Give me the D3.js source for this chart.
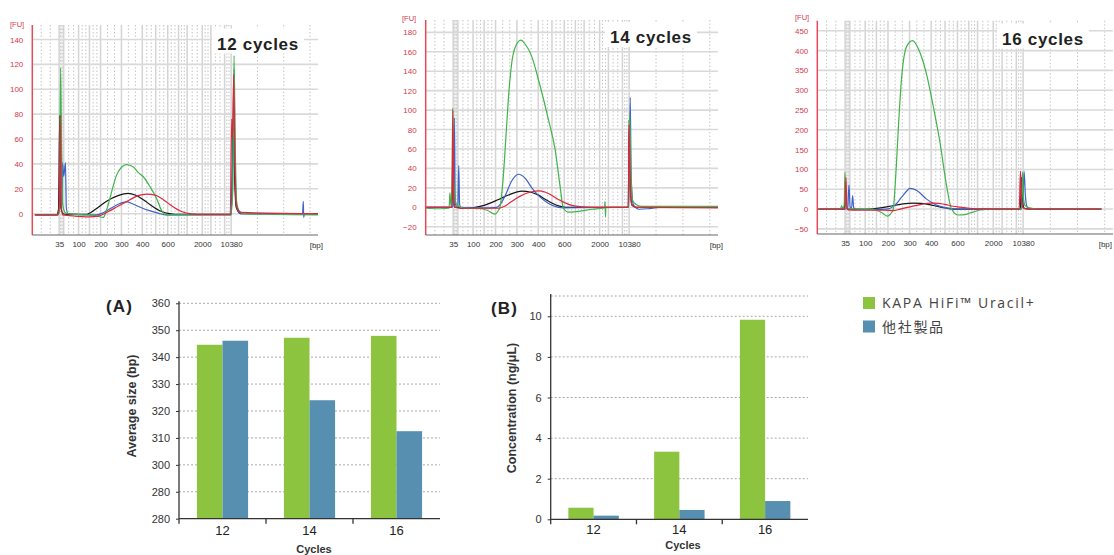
<!DOCTYPE html>
<html><head><meta charset="utf-8">
<script src="https://cdn.jsdelivr.net/npm/d3@7"></script>
<style>body{margin:0;background:#fff} svg{display:block;font-family:"Liberation Sans",Arial,sans-serif}</style>
</head><body><svg id="c" width="1114" height="555"></svg>
<script>
// ---------- Electropherogram data ----------
// Ladder: fragment size (bp) and its migration time (arbitrary time units, 0..100 across the run)
const ladderBp   = [35, 50, 100, 150, 200, 300, 400, 500, 600, 700, 1000, 2000, 3000, 7000, 10380];
const ladderTime = [9.4, 11.0, 16.2, 20.0, 23.9, 31.2, 38.5, 43.2, 47.4, 51.2, 54.2, 59.5, 62.5, 67.3, 69.6];
const xTickBp = [35, 100, 200, 300, 400, 600, 2000, 10380];
const xTickLabels = ["35", "100", "200", "300", "400", "600", "2000", "10380"];
const panelTitles = ["12 cycles", "14 cycles", "16 cycles"];
const fuTicks12 = [0, 20, 40, 60, 80, 100, 120, 140];
const fuTicks14 = [-20, 0, 20, 40, 60, 80, 100, 120, 140, 160, 180];
const fuTicks16 = [-50, 0, 50, 100, 150, 200, 250, 300, 350, 400, 450];
const fuDomain12 = [-17.1, 151.6];
const fuDomain14 = [-28.5, 192.7];
const fuDomain16 = [-63, 475.5];

// traces: [migration time, FU]
const trace12Black = [[0.9,-1],[8.5,-1],[9.2,4],[9.6,79],[10.0,5],[10.8,0],[12,-0.5],[19,-0.5],[20.5,1],[23,5],[26,10],[30,14.5],[33.6,16.3],[36,15],[39,11],[42,6],[45,2],[48,0],[50,-0.5],[69.6,-0.5],[70.0,30],[70.4,80],[70.8,30],[71.4,5],[73,0],[100,0]];
const trace12Blue = [[0.9,-1],[9.0,-1],[9.6,5],[10.0,80],[10.4,10],[10.6,41],[11.0,30],[11.6,41],[11.9,5],[12.5,0],[20,-1],[22.5,-1],[25,1],[28,5],[31,8.5],[33.2,9.5],[35,8],[38,5],[41,2.5],[44,0.5],[47,-1],[69.6,-1],[70.1,40],[70.6,116],[71.0,40],[71.6,5],[73,0],[94.6,0],[94.85,10],[95.0,-3],[95.2,0],[100,-0.5]];
const trace12Green = [[0.9,-1],[8.6,-1],[9.5,2],[9.9,117],[10.2,60],[10.6,8],[11.5,1],[12.5,0],[19,-1],[22,-1.5],[24.85,-3],[26.0,3],[27.8,18],[29.5,31],[31.3,37.5],[33.0,39.5],[35.4,37.5],[37.1,33],[38.85,29.7],[41.2,21.7],[43.5,12.3],[45.3,2.4],[47.0,-1],[69.5,-1],[70.2,20],[70.6,127],[71.0,60],[71.5,10],[72.5,2],[74,0],[100,-1]];
const trace12Red = [[0.9,-1],[9.0,-1],[9.5,10],[9.8,79],[10.1,10],[10.6,-1],[13,-1.5],[20,-2.5],[23,-2],[26,1],[30,6],[34,11],[37,14.5],[40,15.8],[43,15],[46,11],[49,6],[52,2],[55,0],[58,-0.5],[69.3,-0.5],[69.8,76],[70.1,60],[70.5,112],[70.9,40],[71.5,6],[73,1],[100,0]];

const trace14Black = [[0,0],[9.0,0],[9.3,60],[9.6,5],[10,0],[11,0],[12,-1],[13.5,-1],[17,0],[20,2],[24.9,8],[28.3,12.7],[32.9,16.7],[36,15.5],[38.6,12.5],[41,8],[43.1,4.5],[45.4,1.5],[48,0],[69.3,0],[69.6,90],[70,20],[70.6,2],[72,0],[100,0]];
const trace14Blue = [[0,0],[9.0,0],[9.5,3],[9.8,92],[10.1,5],[10.6,0],[11.0,2],[11.3,43],[11.6,3],[12,0],[14,-0.5],[22,-0.5],[24.3,0],[25.5,3],[27.2,12],[29.4,27],[31.7,34],[34,30],[36.3,20],[38.6,12],[42,4],[45.4,0],[47,-0.5],[69.5,0],[69.97,113],[70.3,30],[71,3],[73,-2],[76,-1.5],[80,0],[100,0]];
const trace14Green = [[0,-1],[5,-1.5],[8.0,-1],[8.3,15],[8.6,2],[9.0,20],[9.24,102],[9.5,40],[10.0,10],[10.5,3],[11.75,0],[13.5,-1],[19,-1.5],[21,-3],[23.7,-7],[24.9,-3],[25.4,0],[26.5,30],[27.5,75],[28.5,120],[29.5,150],[30.8,166],[32.6,172],[34,168],[36.3,155],[38.6,131],[42.0,90],[44.3,59],[46.0,21],[47.1,-1],[48.9,-5],[53,-4],[57,-2],[60.5,-1],[61.2,0],[61.35,6],[61.5,-10],[61.65,0],[69.4,0],[69.8,95],[70.2,40],[70.8,7],[72,3],[74,1],[100,1]];
const trace14Red = [[0,0],[9.0,0],[9.3,100],[9.6,10],[10,0],[12,-1],[22,-1],[24.9,-1],[27,1],[29.4,6],[32,11],[34,14],[36.3,16],[38.6,17],[41,15.5],[43.1,12.5],[45.4,8],[47.7,4.5],[50,2],[53.4,0.5],[56.8,0],[69.3,0],[69.6,85],[70.0,20],[70.5,3],[72,0],[100,-0.5]];

const trace16Black = [[0.35,0],[9.2,0],[9.5,60],[9.8,3],[10.5,0],[14,-1],[17.8,0],[23,5],[26,9],[29,13],[32.4,15],[35,14.5],[38,11],[41,6],[44,2],[46,0],[68.7,0],[69.04,80],[69.4,20],[70,2],[72,0],[96.07,0]];
const trace16Blue = [[0.35,0],[9.5,0],[10.3,5],[10.71,61],[11.1,5],[11.6,3],[11.95,34],[12.3,3],[13,0],[20,-1],[23.44,0],[26,8],[28.5,30],[30.2,45],[31.32,52],[32.4,51],[34,45],[36.95,25],[40.33,10],[43.7,3],[48.2,0],[68.8,0],[69.5,10],[69.94,95],[70.4,30],[71,5],[72,1],[96.07,0]];
const trace16Green = [[0.35,0],[7.5,0],[8.0,3],[8.23,8],[8.6,2],[9.1,10],[9.36,93],[9.6,20],[10.0,3],[11,0],[17.8,0],[20,-3],[22,-10],[23.66,-18],[24.8,-12],[25.69,0],[26.25,50],[26.81,120],[27.38,200],[28.5,330],[30.19,410],[32.22,425],[34.7,395],[36.95,340],[39.2,260],[41.45,170],[43.7,60],[45.39,0],[47.64,-15],[50,-14],[51.6,-10],[53.84,-5],[55,-2],[59.47,0],[69.0,0],[69.38,93],[69.7,30],[70.3,8],[71.86,3],[74,0],[96.07,0]];
const trace16Red = [[0.35,0],[9.3,0],[9.7,80],[10.0,5],[10.5,-2],[14,-3],[23,-3],[25.7,-4],[28,0],[31,5],[34,10],[36.9,14],[38.07,15],[40,15],[43,12],[46,7],[48.2,5],[51.6,2],[54,0],[68.3,0],[68.7,96],[69.1,20],[69.6,3],[71,0],[96.07,0]];

// ---------- Bar chart data ----------
const cycles = ["12", "14", "16"];
const seriesNames = ["KAPA HiFi™ Uracil+", "他社製品"];
const sizeKapa  = [344.6, 347.2, 347.9];
const sizeOther = [346.1, 324.0, 312.5];
const sizeTicks = [280, 290, 300, 310, 320, 330, 340, 350, 360];
const sizeTickLabels = ["280", "280", "300", "310", "320", "330", "340", "350", "360"];
const concKapa  = [0.57, 3.33, 9.83];
const concOther = [0.18, 0.46, 0.90];
const concTicks = [0, 2, 4, 6, 8, 10];

// ---------- drawing ----------
const svg = d3.select("#c");
const traceColors = {black:"#151515", blue:"#3d63c9", green:"#3fb449", red:"#e0263d"};
const timeDomain = [0, 100];
const gridEnd = 97.2;

const panels = [
  {title: panelTitles[0], ticks: fuTicks12, dom: fuDomain12, tr: {black:trace12Black, blue:trace12Blue, green:trace12Green, red:trace12Red},
   x0: 32.3, x1: 318, top: 25, bot: 235, fuX: 10, fuY: 26.5, tx: 217, ty: 49.5},
  {title: panelTitles[1], ticks: fuTicks14, dom: fuDomain14, tr: {black:trace14Black, blue:trace14Blue, green:trace14Green, red:trace14Red},
   x0: 425.7, x1: 718, top: 20, bot: 235, fuX: 402, fuY: 20.5, tx: 610, ty: 43},
  {title: panelTitles[2], ticks: fuTicks16, dom: fuDomain16, tr: {black:trace16Black, blue:trace16Blue, green:trace16Green, red:trace16Red},
   x0: 817.3, x1: 1113, top: 20.7, bot: 234, fuX: 795, fuY: 20, tx: 1002, ty: 44.5}
];

panels.forEach(p => {
  const x = d3.scaleLinear().domain(timeDomain).range([p.x0, p.x1]);
  const y = d3.scaleLinear().domain(p.dom).range([p.bot, p.top]);
  const g = svg.append("g");
  // marker band
  g.append("rect").attr("x", x(ladderTime[0])).attr("y", p.top)
    .attr("width", x(ladderTime[1]) - x(ladderTime[0])).attr("height", p.bot - p.top).attr("fill", "#f1f1f1");
  // dotted vertical grid (two between each ladder line)
  const bounds = [timeDomain[0], ...ladderTime, gridEnd];
  const dots = [];
  for (let i = 0; i < bounds.length - 1; i++) {
    dots.push(bounds[i] + (bounds[i+1]-bounds[i]) / 3, bounds[i] + 2*(bounds[i+1]-bounds[i]) / 3);
  }
  dots.push(gridEnd);
  g.selectAll(".dv").data(dots).join("line")
    .attr("x1", d => x(d)).attr("x2", d => x(d)).attr("y1", p.top).attr("y2", p.bot)
    .attr("stroke", "#c4c4c4").attr("stroke-width", 1).attr("stroke-dasharray", "1.5,2");
  // solid vertical grid at ladder peaks
  g.selectAll(".sv").data(ladderTime).join("line")
    .attr("x1", d => x(d)).attr("x2", d => x(d)).attr("y1", p.top).attr("y2", p.bot)
    .attr("stroke", "#d4d4d4").attr("stroke-width", 1.5);
  // horizontal grid
  g.selectAll(".hg").data(p.ticks).join("line")
    .attr("x1", p.x0).attr("x2", p.x1).attr("y1", d => y(d)).attr("y2", d => y(d))
    .attr("stroke", "#d9d9d9").attr("stroke-width", 1.6);
  // title box
  g.append("rect").attr("x", p.tx - 5).attr("y", p.ty - 21).attr("width", 92).attr("height", 25).attr("fill", "#fff");
  g.append("text").attr("x", p.tx).attr("y", p.ty).text(p.title)
    .attr("font-size", 17).attr("font-weight", "bold").attr("letter-spacing", 0.7).attr("fill", "#222");
  // traces
  const line = d3.line().x(d => x(d[0])).y(d => y(d[1])).curve(d3.curveMonotoneX);
  ["black", "blue", "green", "red"].forEach(k => {
    g.append("path").datum(p.tr[k]).attr("d", line).attr("fill", "none")
      .attr("stroke", traceColors[k]).attr("stroke-width", 1.2).attr("stroke-linejoin", "round");
  });
  // y axis
  const ya = g.append("g").attr("transform", `translate(${p.x0},0)`)
    .call(d3.axisLeft(y).tickValues(p.ticks).tickSize(0).tickPadding(9));
  ya.select(".domain").remove();
  ya.selectAll("text").attr("fill", "#d4394d").attr("font-size", 8).attr("font-family", "Liberation Sans, Arial, sans-serif");
  g.append("line").attr("x1", p.x0).attr("x2", p.x0).attr("y1", p.top).attr("y2", p.bot)
    .attr("stroke", "#e8485a").attr("stroke-width", 1.5);
  // x axis
  const xt = xTickBp.map(b => ladderTime[ladderBp.indexOf(b)]);
  const xa = g.append("g").attr("transform", `translate(0,${p.bot})`)
    .call(d3.axisBottom(x).tickValues(xt).tickFormat((d, i) => xTickLabels[i]).tickSize(0).tickPadding(6));
  xa.select(".domain").remove();
  xa.selectAll("text").attr("fill", "#333").attr("font-size", 8).attr("font-family", "Liberation Sans, Arial, sans-serif");
  g.append("line").attr("x1", p.x0).attr("x2", p.x1).attr("y1", p.bot).attr("y2", p.bot)
    .attr("stroke", "#666").attr("stroke-width", 1.2);
  g.append("text").attr("x", Math.min(p.x1 + 5, 1112)).attr("y", p.bot + 12.5).attr("text-anchor", "end")
    .text("[bp]").attr("font-size", 8).attr("fill", "#333");
  g.append("text").attr("x", p.fuX).attr("y", p.fuY).text("[FU]").attr("font-size", 7.5).attr("fill", "#d4394d");
});

// ---------- Bar charts ----------
const barColors = ["#8cc43f", "#578fb0"];
function barChart(cfg) {
  const g = svg.append("g");
  const x = d3.scaleBand().domain(cycles).range([cfg.x0, cfg.x1]);
  const xs = d3.scaleBand().domain(seriesNames).range([0, x.bandwidth()]).paddingOuter(0.7);
  const y = d3.scaleLinear().domain(cfg.dom).range([cfg.y0, cfg.y1]);
  // grid
  g.selectAll(".gl").data(cfg.grid).join("line")
    .attr("x1", cfg.x0).attr("x2", cfg.x1).attr("y1", d => y(d)).attr("y2", d => y(d))
    .attr("stroke", "#a8a8a8").attr("stroke-width", 1).attr("stroke-dasharray", "2,2");
  // bars
  const rows = cycles.map((c, i) => ({c, v: [cfg.a[i], cfg.b[i]]}));
  const grp = g.selectAll(".cat").data(rows).join("g").attr("transform", d => `translate(${x(d.c)},0)`);
  grp.selectAll("rect").data(d => d.v.map((v, j) => ({v, s: seriesNames[j], j}))).join("rect")
    .attr("x", d => xs(d.s)).attr("width", xs.bandwidth())
    .attr("y", d => y(d.v)).attr("height", d => y(cfg.dom[0]) - y(d.v))
    .attr("fill", d => barColors[d.j]);
  // y axis
  const ya = g.append("g").attr("transform", `translate(${cfg.x0},0)`)
    .call(d3.axisLeft(y).tickValues(cfg.ticks).tickFormat((d, i) => cfg.labels[i]).tickSize(3).tickPadding(6));
  ya.select(".domain").remove();
  ya.selectAll("line").attr("stroke", "#333");
  ya.selectAll("text").attr("font-size", 11).attr("fill", "#333").attr("font-family", "Liberation Sans, Arial, sans-serif");
  g.append("line").attr("x1", cfg.x0).attr("x2", cfg.x0).attr("y1", cfg.y1 - 2).attr("y2", cfg.y0 + 5)
    .attr("stroke", "#333").attr("stroke-width", 1.3);
  // x axis
  g.append("line").attr("x1", cfg.x0).attr("x2", cfg.x1).attr("y1", cfg.y0).attr("y2", cfg.y0)
    .attr("stroke", "#333").attr("stroke-width", 1.3);
  g.selectAll(".sep").data(cycles.slice(1)).join("line")
    .attr("x1", d => x(d)).attr("x2", d => x(d)).attr("y1", cfg.y0).attr("y2", cfg.y0 + 5)
    .attr("stroke", "#333").attr("stroke-width", 1.3);
  const xa = g.append("g").attr("transform", `translate(0,${cfg.y0})`)
    .call(d3.axisBottom(x).tickSize(0).tickPadding(cfg.pad));
  xa.select(".domain").remove();
  xa.selectAll("text").attr("font-size", 13).attr("fill", "#222").attr("font-family", "Liberation Sans, Arial, sans-serif");
  g.append("text").attr("x", cfg.cx).attr("y", cfg.cy).attr("text-anchor", "middle").text("Cycles")
    .attr("font-size", 11).attr("font-weight", "bold").attr("fill", "#333");
  g.append("text").attr("transform", `translate(${cfg.tx},${cfg.ty}) rotate(-90)`).attr("text-anchor", "middle")
    .text(cfg.title).attr("font-size", 12.5).attr("font-weight", "bold").attr("fill", "#333");
  g.append("text").attr("x", cfg.lx).attr("y", cfg.ly).text(cfg.letter)
    .attr("font-size", 17).attr("font-weight", "bold").attr("letter-spacing", 1.2).attr("fill", "#222");
}

barChart({x0: 179, x1: 440, y0: 518.7, y1: 303.3, dom: [280, 360], ticks: sizeTicks, labels: sizeTickLabels, grid: sizeTicks.slice(1),
  a: sizeKapa, b: sizeOther, title: "Average size (bp)", tx: 136, ty: 406, cx: 314, cy: 552.5, pad: 7, letter: "(A)", lx: 106, ly: 312});
barChart({x0: 550.7, x1: 808, y0: 519.3, y1: 296, dom: [0, 11], ticks: concTicks, labels: concTicks.map(String), grid: [2, 4, 6, 8, 10, 11],
  a: concKapa, b: concOther, title: "Concentration (ng/μL)", tx: 516, ty: 408, cx: 683, cy: 549, pad: 5, letter: "(B)", lx: 491, ly: 314});

// legend
const lg = svg.append("g").attr("transform", "translate(863,297)");
seriesNames.forEach((s, i) => {
  lg.append("rect").attr("x", 0).attr("y", i * 23.5).attr("width", 12).attr("height", 12).attr("fill", barColors[i]);
  lg.append("text").attr("x", 19).attr("y", i * 23.5 + 11).text(s).attr("font-size", 14)
    .attr("font-family", "'Open Sans','Noto Sans CJK JP',sans-serif").attr("letter-spacing", 1.7).attr("fill", "#444");
});
</script></body></html>
